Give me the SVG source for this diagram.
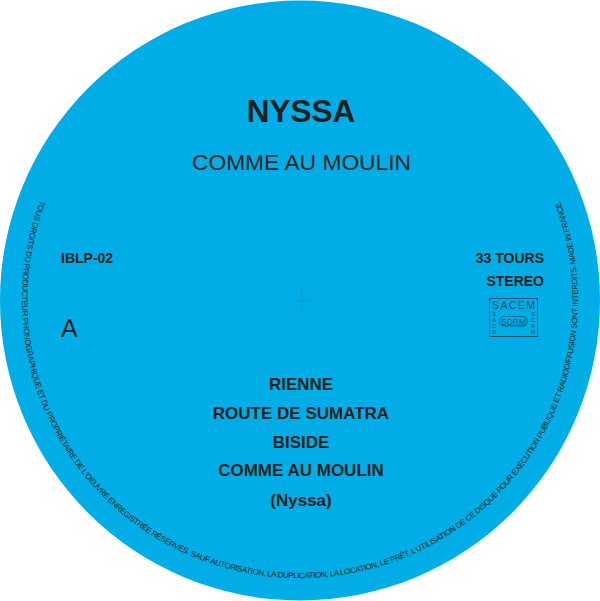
<svg xmlns="http://www.w3.org/2000/svg" width="600" height="601" viewBox="0 0 600 601">
<style>
text{font-family:"Liberation Sans",Arial,sans-serif;fill:#231f20}
.b{font-weight:700}
.t{font-size:17px;font-weight:700;text-anchor:middle}
.s{font-size:14px;font-weight:700}
.logo{fill:#1c4f6e;text-anchor:middle}
</style>
<defs><path id="rim" d="M40.5 200.4A278 278 0 1 0 559.5 200.4"/></defs>
<rect width="600" height="601" fill="#fff"/>
<circle cx="300" cy="300.5" r="300" fill="#00ade6"/>
<g id="center-mark" stroke="#1f8fb8" stroke-width="1" opacity=".6"><path d="M292 301H313M302 288V313"/></g>
<g id="title">
<text class="b" x="301" y="122" font-size="31.500" text-anchor="middle">NYSSA</text>
<text x="301.500" y="170" font-size="22.800" text-anchor="middle">COMME AU MOULIN</text>
</g>
<g id="left-info">
<text class="s" x="61" y="263">IBLP-02</text>
<text x="61" y="337" font-size="25">A</text>
</g>
<g id="right-info">
<text class="s" x="544" y="263" text-anchor="end">33 TOURS</text>
<text class="s" x="544" y="286" text-anchor="end">STEREO</text>
</g>
<g id="logo">
<rect x="489.500" y="298.500" width="48" height="38" fill="none" stroke="#1c4f6e" stroke-width="1"/>
<text class="logo" x="513.500" y="309" font-size="10.500" textLength="43" lengthAdjust="spacing">SACEM</text>
<text class="logo" x="494" y="316" font-size="5.500">S</text>
<text class="logo" x="494" y="322" font-size="5.500">A</text>
<text class="logo" x="494" y="328" font-size="5.500">C</text>
<text class="logo" x="494" y="334" font-size="5.500">D</text>
<text class="logo" x="533" y="316" font-size="5.500">S</text>
<text class="logo" x="533" y="322" font-size="5.500">C</text>
<text class="logo" x="533" y="328" font-size="5.500">A</text>
<text class="logo" x="533" y="334" font-size="5.500">M</text>
<rect x="499.500" y="316.500" width="28" height="9.500" rx="4.750" fill="none" stroke="#1c4f6e" stroke-width=".8"/>
<text class="logo" x="513.500" y="324.500" font-size="8.500">SDRM</text>
</g>
<g id="tracks">
<text class="t" x="301" y="390">RIENNE</text>
<text class="t" x="301" y="419">ROUTE DE SUMATRA</text>
<text class="t" x="301" y="448">BISIDE</text>
<text class="t" x="301" y="476">COMME AU MOULIN</text>
<text class="t" x="301" y="506">(Nyssa)</text>
</g>
<g id="rim-text"><text font-size="8"><textPath href="#rim" textLength="1077">TOUS DROITS DU PRODUCTEUR PHONOGRAPHIQUE ET DU PROPRIÉTAIRE DE L'OEUVRE ENREGISTRÉE RÉSERVÉS. SAUF AUTORISATION, LA DUPLICATION, LA LOCATION, LE PRÊT, L'UTILISATION DE CE DISQUE POUR EXÉCUTION PUBLIQUE ET RADIODIFFUSION SONT INTERDITS. MADE IN FRANCE.</textPath></text></g>
</svg>
